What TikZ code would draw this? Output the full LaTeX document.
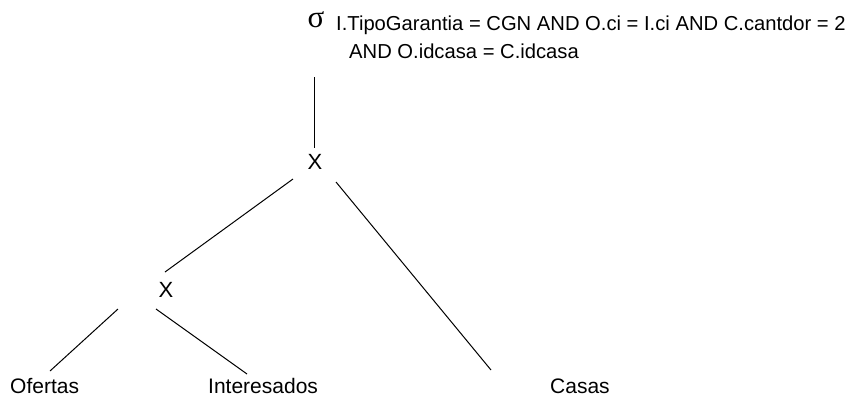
\documentclass[tikz,border=0pt]{standalone}
\usepackage{fontspec}
\setmainfont{Liberation Sans}
\newfontfamily\sigfont{Liberation Serif}
\begin{document}
\begin{tikzpicture}[x=1pt,y=-1pt,
  lbl/.style={font=\fontsize{21}{24}\selectfont, inner sep=0pt, anchor=base west},
  cond/.style={font=\fontsize{20.2}{23}\selectfont, inner sep=0pt, anchor=base west},
  op/.style={font=\fontsize{22}{26}\selectfont, inner sep=0pt},
  edge/.style={line width=1pt}]
\useasboundingbox (0,0) rectangle (855,402);
\node[font=\sigfont\fontsize{31}{34}\selectfont, inner sep=0pt] (sig) at (316,20) {σ};
\node[cond] (c1) at (336,30) {I.TipoGarantia = CGN AND O.ci = I.ci AND C.cantdor = 2};
\node[cond] (c2) at (349,58) {AND O.idcasa = C.idcasa};
\node[op] (x1) at (315,162) {X};
\node[op] (x2) at (166,290) {X};
\node[lbl] (of) at (10,393) {Ofertas};
\node[lbl] (in) at (208,393) {Interesados};
\node[lbl] (ca) at (550,393) {Casas};
\coordinate (s0) at (314.5,77);
\coordinate (s1) at (314.5,148);
\coordinate (a0) at (293,179);
\coordinate (a1) at (165,272);
\coordinate (b0) at (336,182);
\coordinate (b1) at (491,370);
\coordinate (c0) at (118,309);
\coordinate (cc1) at (50,371);
\coordinate (d0) at (156,309);
\coordinate (d1) at (247,374);
\draw[edge] (s0) -- (s1);
\draw[edge] (a0) -- (a1);
\draw[edge] (b0) -- (b1);
\draw[edge] (c0) -- (cc1);
\draw[edge] (d0) -- (d1);
\end{tikzpicture}
\end{document}
